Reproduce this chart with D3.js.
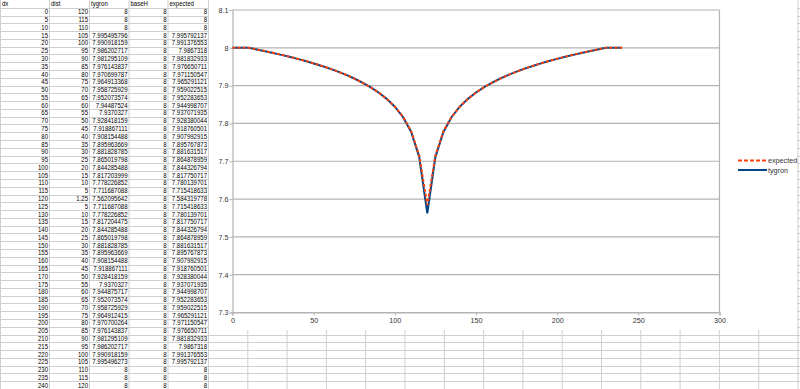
<!DOCTYPE html>
<html>
<head>
    <title>tygron vs expected</title>
    <script src="https://d3js.org/d3.v7.min.js"></script>
    <style>
        html, body {
            margin: 0;
            height: 100%;
            overflow: hidden;
            background: #fff;
        }
        #sheet {
            width: 800px;
            height: 389px;
        }
        text {
            font-family: "Liberation Sans", Arial, sans-serif;
        }
    </style>
</head>
<body>
    <div id="sheet"></div>

    <script>
        // Spreadsheet columns
        const headers = ["dx", "dist", "tygron", "baseH", "expected"];
        const dx = [0, 5, 10, 15, 20, 25, 30, 35, 40, 45, 50, 55, 60, 65, 70, 75, 80, 85, 90, 95,
            100, 105, 110, 115, 120, 125, 130, 135, 140, 145, 150, 155, 160, 165, 170, 175, 180,
            185, 190, 195, 200, 205, 210, 215, 220, 225, 230, 235, 240];
        const dist = [120, 115, 110, 105, 100, 95, 90, 85, 80, 75, 70, 65, 60, 55, 50, 45, 40, 35,
            30, 25, 20, 15, 10, 5, 1.25, 5, 10, 15, 20, 25, 30, 35, 40, 45, 50, 55, 60, 65, 70, 75,
            80, 85, 90, 95, 100, 105, 110, 115, 120];
        const tygron = [8, 8, 8, 7.995495796, 7.990918159, 7.986202717, 7.981295109, 7.976143837,
            7.970699787, 7.964913368, 7.958725929, 7.952073574, 7.94487524, 7.9370327, 7.928418159,
            7.918867111, 7.908154488, 7.895963669, 7.881828785, 7.865019798, 7.844285488,
            7.817203999, 7.778226852, 7.711687088, 7.562095642, 7.711687088, 7.778226852,
            7.817204475, 7.844285488, 7.865019798, 7.881828785, 7.895963669, 7.908154488,
            7.918867111, 7.928418159, 7.9370327, 7.944875717, 7.952073574, 7.958725929,
            7.964912415, 7.970700264, 7.976143837, 7.981295109, 7.986202717, 7.990918159,
            7.995496273, 8, 8, 8];
        const baseH = dx.map(() => 8);
        const expected = [8, 8, 8, 7.995792137, 7.991376553, 7.9867318, 7.981832933, 7.976650711,
            7.971150547, 7.965291121, 7.959022515, 7.952283653, 7.944998707, 7.937071935,
            7.928380044, 7.918760501, 7.907992915, 7.895767873, 7.881631517, 7.864878959,
            7.844326794, 7.817750717, 7.780139701, 7.715418633, 7.584319778, 7.715418633,
            7.780139701, 7.817750717, 7.844326794, 7.864878959, 7.881631517, 7.895767873,
            7.907992915, 7.918760501, 7.928380044, 7.937071935, 7.944998707, 7.952283653,
            7.959022515, 7.965291121, 7.971150547, 7.976650711, 7.981832933, 7.9867318,
            7.991376553, 7.995792137, 8, 8, 8];

        // Chart axis ticks
        const xTicks = [0, 50, 100, 150, 200, 250, 300];
        const yTicks = [7.3, 7.4, 7.5, 7.6, 7.7, 7.8, 7.9, 8, 8.1];
        const legendItems = ["expected", "tygron"];

        const W = 800, H = 389;
        const rowH = 7.78;
        const colEdges = [0, 49, 89, 128.5, 167.5, 208];
        const squeeze = 0.84;   // sheet text looks horizontally compressed

        const svg = d3.select("#sheet")
            .append("svg")
            .attr("width", W)
            .attr("height", H);

        // Sheet grid (drawn everywhere, chart covers part of it)
        const grid = svg.append("g");
        const extraCols = d3.range(208, W + 40, 39.3);
        const allCols = colEdges.concat(extraCols.slice(1));
        grid.selectAll("line.v")
            .data(allCols)
            .join("line")
            .attr("x1", d => d + 0.5).attr("x2", d => d + 0.5)
            .attr("y1", 0).attr("y2", H)
            .attr("stroke", "#d0d0d0");
        grid.selectAll("line.h")
            .data(d3.range(1, 51))
            .join("line")
            .attr("x1", 0).attr("x2", W)
            .attr("y1", d => Math.round(d * rowH) + 0.5)
            .attr("y2", d => Math.round(d * rowH) + 0.5)
            .attr("stroke", "#d0d0d0");

        // Table text
        const table = svg.append("g").attr("font-size", "7.2px").attr("fill", "#000");
        table.selectAll("text.hd")
            .data(headers)
            .join("text")
            .attr("transform", (d, i) => `translate(${colEdges[i] + 2},${rowH - 1.3}) scale(${squeeze},1)`)
            .text(d => d);

        const cols = [dx, dist, tygron, baseH, expected];
        cols.forEach((col, ci) => {
            table.append("g").selectAll("text")
                .data(col)
                .join("text")
                .attr("transform", (d, i) => `translate(${colEdges[ci + 1] - 1},${(i + 2) * rowH - 1.3}) scale(${squeeze},1)`)
                .attr("text-anchor", "end")
                .text(d => String(d));
        });

        // Chart object
        const chart = svg.append("g");
        chart.append("rect")
            .attr("x", 209).attr("y", 0)
            .attr("width", 588).attr("height", 330)
            .attr("fill", "#fff");

        const x = d3.scaleLinear().domain([0, 300]).range([232.5, 719.5]);
        const y = d3.scaleLinear().domain([7.3, 8.1]).range([312.5, 10]);

        // Horizontal gridlines
        chart.append("g")
            .selectAll("line")
            .data(yTicks)
            .join("line")
            .attr("x1", x(0)).attr("x2", x(300))
            .attr("y1", d => y(d)).attr("y2", d => y(d))
            .attr("stroke", "#b3b3b3")
            .attr("stroke-width", 1.2);

        // Right border
        chart.append("line")
            .attr("x1", x(300)).attr("x2", x(300))
            .attr("y1", y(8.1)).attr("y2", y(7.3))
            .attr("stroke", "#b3b3b3")
            .attr("stroke-width", 1.2);

        const xAxis = chart.append("g")
            .attr("transform", `translate(0,${y(7.3)})`)
            .call(d3.axisBottom(x).tickValues(xTicks).tickSize(3).tickPadding(2));
        const yAxis = chart.append("g")
            .attr("transform", `translate(${x(0)},0)`)
            .call(d3.axisLeft(y).tickValues(yTicks).tickSize(3).tickPadding(1)
                .tickFormat(d => String(+d.toFixed(1))));
        [xAxis, yAxis].forEach(a => {
            a.select(".domain").attr("stroke", "#b3b3b3").attr("stroke-width", 1.2);
            a.selectAll(".tick line").attr("stroke", "#b3b3b3");
            a.selectAll(".tick text")
                .attr("fill", "#333")
                .style("font-size", "7.2px")
                .style("font-family", "'Liberation Sans', Arial, sans-serif");
        });

        const line = d3.line()
            .x((d, i) => x(dx[i]))
            .y(d => y(d));

        chart.append("path")
            .attr("d", line(tygron))
            .attr("fill", "none")
            .attr("stroke", "#004586")
            .attr("stroke-width", 2);

        chart.append("path")
            .attr("d", line(expected))
            .attr("fill", "none")
            .attr("stroke", "#ff420e")
            .attr("stroke-width", 2)
            .attr("stroke-dasharray", "3,2");

        // Legend
        const legend = chart.append("g");
        legendItems.forEach((name, i) => {
            const ly = 160.5 + i * 9.5;
            legend.append("line")
                .attr("x1", 738).attr("x2", 767)
                .attr("y1", ly).attr("y2", ly)
                .attr("stroke", name === "expected" ? "#ff420e" : "#004586")
                .attr("stroke-width", 2)
                .attr("stroke-dasharray", name === "expected" ? "4,2" : null);
            legend.append("text")
                .attr("x", 768)
                .attr("y", ly + 2.6)
                .attr("font-size", "7.2px")
                .attr("fill", "#333")
                .text(name);
        });
    </script>
</body>
</html>
